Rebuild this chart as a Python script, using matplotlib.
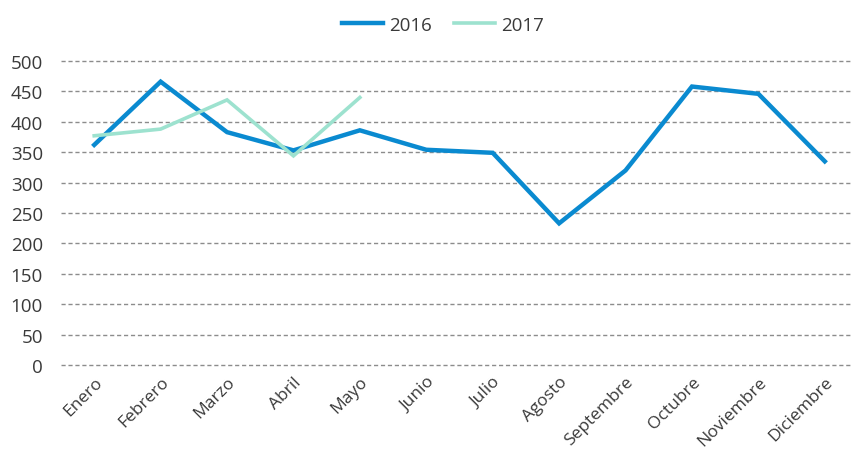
import matplotlib.pyplot as plt

months = ["Enero", "Febrero", "Marzo", "Abril", "Mayo", "Junio", "Julio",
          "Agosto", "Septembre", "Octubre", "Noviembre", "Diciembre"]
vals_2016 = [362, 466, 383, 353, 386, 354, 349, 233, 320, 458, 446, 335]
vals_2017 = [377, 388, 436, 344, 440]

COL_2016 = "#0a8ad0"
COL_2017 = "#9de2cf"
TXT = "#3a3a3a"

plt.rcParams["font.family"] = ["Open Sans", "DejaVu Sans"]

fig = plt.figure(figsize=(8.52, 4.56), dpi=100)
ax = fig.add_axes([61 / 852, 90 / 456, 791 / 852, 304 / 456])

x = list(range(len(months)))
ax.plot(x, vals_2016, color=COL_2016, lw=3.2, label="2016", solid_joinstyle="miter", zorder=3)
ax.plot(x[:len(vals_2017)], vals_2017, color=COL_2017, lw=2.6, label="2017",
        solid_joinstyle="miter", zorder=4)

ax.set_xlim(-0.5, 11.41)
ax.set_ylim(0, 500)
ax.set_yticks(range(0, 501, 50))
ax.yaxis.grid(True, color="#8c8c8c", ls=(0, (3, 2)), lw=1)
for gl in ax.get_ygridlines():
    gl.set_clip_on(False)
ax.set_axisbelow(True)
for s in ax.spines.values():
    s.set_visible(False)
ax.tick_params(axis="y", length=0, labelsize=13.5, colors=TXT, pad=13)
ax.set_xticks(x)
ax.set_xticklabels(months, rotation=45, ha="right", rotation_mode="anchor")
ax.tick_params(axis="x", length=0, labelsize=12.5, colors=TXT, pad=6)

fig.legend(loc="upper center", bbox_to_anchor=(0.52, 1.0), ncol=2, frameon=False,
           fontsize=13.5, handlelength=2.2, handletextpad=0.3, columnspacing=1.2,
           labelcolor=TXT)

fig.savefig("out.png", dpi=100)
